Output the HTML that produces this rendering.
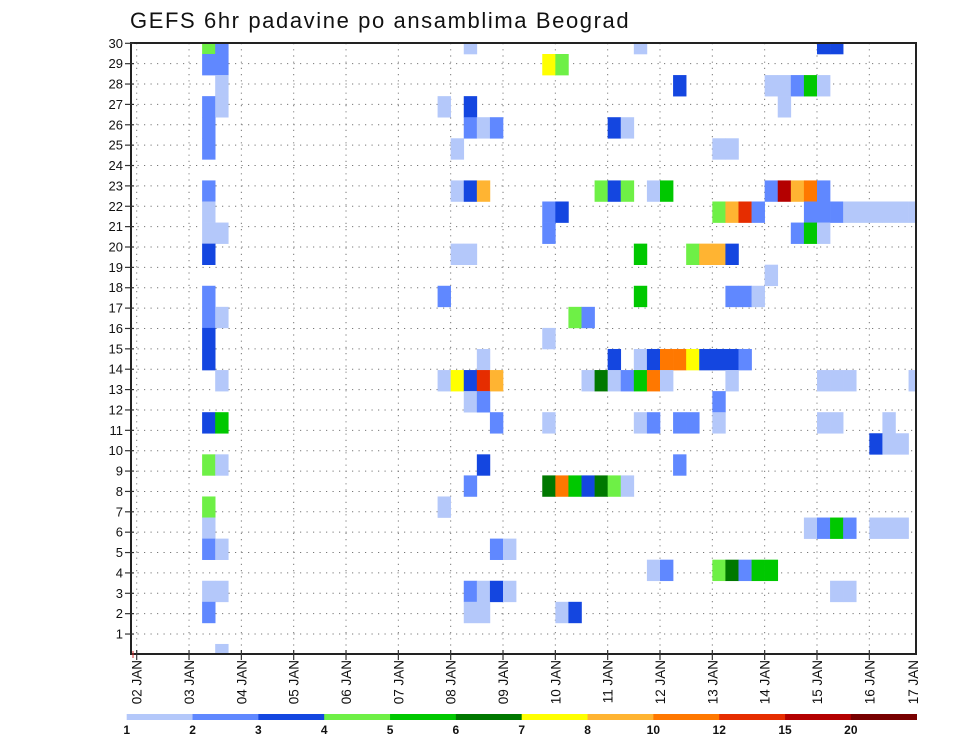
<!DOCTYPE html>
<html><head><meta charset="utf-8"><style>
html,body{margin:0;padding:0;background:#fff;}
svg{display:block;font-family:"Liberation Sans","DejaVu Sans",sans-serif;}
</style></head><body>
<svg id="chart" width="960" height="742" viewBox="0 0 960 742" xmlns="http://www.w3.org/2000/svg">
<text x="130" y="28" font-size="22" fill="#111" letter-spacing="1.6">GEFS 6hr padavine po ansamblima Beograd</text>
<defs><clipPath id="plotclip"><rect x="131" y="43" width="785" height="611"/></clipPath></defs>
<g id="grid"></g>
<g id="cells" clip-path="url(#plotclip)"></g>
<rect x="131" y="43" width="785" height="611" fill="none" stroke="#222" stroke-width="2"/>
<g id="yaxis"></g>
<g id="xaxis"></g>
<g id="legend"></g>
</svg>
<script>
// day tick labels
const dayLabels = ["02 JAN","03 JAN","04 JAN","05 JAN","06 JAN","07 JAN","08 JAN","09 JAN","10 JAN","11 JAN","12 JAN","13 JAN","14 JAN","15 JAN","16 JAN","17 JAN"];
// member tick labels
const memberTicks = [1,2,3,4,5,6,7,8,9,10,11,12,13,14,15,16,17,18,19,20,21,22,23,24,25,26,27,28,29,30];
// legend level boundaries (mm) and labels
const levelBounds = [1,2,3,4,5,6,7,8,10,12,15,20];
const levelColors = ["#b4c8fa","#6088ff","#1446e0","#6ef046","#00c800","#007800","#ffff00","#ffb432","#ff7800","#e62d00","#b40000","#780000"];
// precipitation records: [member, 6h-step, mm]
const records = [
[30,5,4.5],[30,6,2.5],[30,25,1.5],[30,38,1.5],[30,52,3.5],[30,53,3.5],
[29,5,2.5],[29,6,2.5],[29,31,7.5],[29,32,4.5],
[28,6,1.5],[28,41,3.5],[28,48,1.5],[28,49,1.5],[28,50,2.5],[28,51,5.5],[28,52,1.5],
[27,5,2.5],[27,6,1.5],[27,23,1.5],[27,25,3.5],[27,49,1.5],
[26,5,2.5],[26,25,2.5],[26,26,1.5],[26,27,2.5],[26,36,3.5],[26,37,1.5],
[25,5,2.5],[25,24,1.5],[25,44,1.5],[25,45,1.5],
[23,5,2.5],[23,24,1.5],[23,25,3.5],[23,26,9],[23,35,4.5],[23,36,3.5],[23,37,4.5],[23,39,1.5],[23,40,5.5],[23,48,2.5],[23,49,17],[23,50,9],[23,51,11],[23,52,2.5],
[22,5,1.5],[22,31,2.5],[22,32,3.5],[22,44,4.5],[22,45,9],[22,46,13],[22,47,2.5],[22,51,2.5],[22,52,2.5],[22,53,2.5],[22,54,1.5],[22,55,1.5],[22,56,1.5],[22,57,1.5],[22,58,1.5],[22,59,1.5],
[21,5,1.5],[21,6,1.5],[21,31,2.5],[21,50,2.5],[21,51,5.5],[21,52,1.5],
[20,5,3.5],[20,24,1.5],[20,25,1.5],[20,38,5.5],[20,42,4.5],[20,43,9],[20,44,9],[20,45,3.5],
[19,48,1.5],
[18,5,2.5],[18,23,2.5],[18,38,5.5],[18,45,2.5],[18,46,2.5],[18,47,1.5],
[17,5,2.5],[17,6,1.5],[17,33,4.5],[17,34,2.5],
[16,5,3.5],[16,31,1.5],
[15,5,3.5],[15,26,1.5],[15,36,3.5],[15,38,1.5],[15,39,3.5],[15,40,11],[15,41,11],[15,42,7.5],[15,43,3.5],[15,44,3.5],[15,45,3.5],[15,46,2.5],
[14,6,1.5],[14,23,1.5],[14,24,7.5],[14,25,3.5],[14,26,13],[14,27,9],[14,34,1.5],[14,35,6.5],[14,36,1.5],[14,37,2.5],[14,38,5.5],[14,39,11],[14,40,1.5],[14,45,1.5],[14,52,1.5],[14,53,1.5],[14,54,1.5],[14,59,1.5],
[13,25,1.5],[13,26,2.5],[13,44,2.5],
[12,5,3.5],[12,6,5.5],[12,27,2.5],[12,31,1.5],[12,38,1.5],[12,39,2.5],[12,41,2.5],[12,42,2.5],[12,44,1.5],[12,52,1.5],[12,53,1.5],[12,57,1.5],
[11,56,3.5],[11,57,1.5],[11,58,1.5],
[10,5,4.5],[10,6,1.5],[10,26,3.5],[10,41,2.5],
[9,25,2.5],[9,31,6.5],[9,32,11],[9,33,5.5],[9,34,3.5],[9,35,6.5],[9,36,4.5],[9,37,1.5],
[8,5,4.5],[8,23,1.5],
[7,5,1.5],[7,51,1.5],[7,52,2.5],[7,53,5.5],[7,54,2.5],[7,56,1.5],[7,57,1.5],[7,58,1.5],
[6,5,2.5],[6,6,1.5],[6,27,2.5],[6,28,1.5],
[5,39,1.5],[5,40,2.5],[5,44,4.5],[5,45,6.5],[5,46,2.5],[5,47,5.5],[5,48,5.5],
[4,5,1.5],[4,6,1.5],[4,25,2.5],[4,26,1.5],[4,27,3.5],[4,28,1.5],[4,53,1.5],[4,54,1.5],
[3,5,2.5],[3,25,1.5],[3,26,1.5],[3,32,1.5],[3,33,3.5],
[1,6,1.5]
];

const NS="http://www.w3.org/2000/svg";
const PX0=131,PX1=916,PY0=43,PY1=654;
const day0X=136.7, dayW=52.33, stepW=dayW/4;
const cellTop29=54, cellH=21.07;
function xDay(d){return day0X+d*dayW;}
function xStep(s){return day0X+s*stepW;}
function yCell(m){return cellTop29+(29-m)*cellH;}
function yTick(r){return 654.4-r*20.37;}
function colorFor(v){let i=0;for(let k=0;k<levelBounds.length;k++){if(v>=levelBounds[k])i=k;}return levelColors[i];}
function mk(tag,attrs,parent){const e=document.createElementNS(NS,tag);for(const k in attrs)e.setAttribute(k,attrs[k]);parent.appendChild(e);return e;}

const grid=document.getElementById('grid');
dayLabels.forEach((lab,d)=>{const x=xDay(d);if(x>PX1-2)return;
 const l=mk('line',{x1:x,x2:x,y1:PY0,y2:PY1,stroke:'#777','stroke-width':1,'stroke-dasharray':'1.2,5'},grid);
 
 });
memberTicks.forEach(r=>{const y=yTick(r);
 const l=mk('line',{x1:PX0,x2:PX1,y1:y,y2:y,stroke:'#777','stroke-width':1,'stroke-dasharray':'1.2,5.3'},grid);
 
 });

const cells=document.getElementById('cells');
records.forEach(rec=>{const m=rec[0],s=rec[1],v=rec[2];
 const r=mk('rect',{x:xStep(s),y:yCell(m),width:stepW+0.3,height:cellH+0.3,fill:colorFor(v)},cells);
 
 });

const ya=document.getElementById('yaxis');
memberTicks.forEach(r=>{const y=yTick(r);
 const t=mk('line',{x1:PX0-6,x2:PX0+3,y1:y,y2:y,stroke:'#333','stroke-width':1.2},ya);
 
 
 const tx=mk('text',{x:PX0-8,y:y+4.5,'font-size':13,'text-anchor':'end',fill:'#111'},ya);
 tx.textContent=r;
 
 });

const xa=document.getElementById('xaxis');
mk('line',{x1:PX0+2,x2:PX0+2,y1:PY1-3,y2:PY1+4,stroke:'#d33','stroke-width':1},xa);
dayLabels.forEach((lab,d)=>{let x=xDay(d);
 if(x<=PX1){const t=mk('line',{x1:x,x2:x,y1:PY1-4,y2:PY1+6,stroke:'#333','stroke-width':1.2},xa);
  
  }
 const lx=Math.min(x,913)+5;
 const tx=mk('text',{x:lx,y:660,'font-size':13.5,'text-anchor':'end',fill:'#111',transform:'rotate(-90 '+lx+' 660)'},xa);
 tx.textContent=lab;
 
 });

const lg=document.getElementById('legend');
const lx0=126.7,lw=(916.7-126.7)/levelColors.length;
levelColors.forEach((c,i)=>{
 const r=mk('rect',{x:lx0+i*lw,y:714,width:lw+0.3,height:6,fill:c},lg);
 
 });
levelBounds.forEach((b,i)=>{
 const t=mk('text',{x:lx0+i*lw,y:734,'font-size':12,'font-weight':'bold','text-anchor':'middle',fill:'#111'},lg);
 t.textContent=b;
 
 });
</script>
</body></html>
